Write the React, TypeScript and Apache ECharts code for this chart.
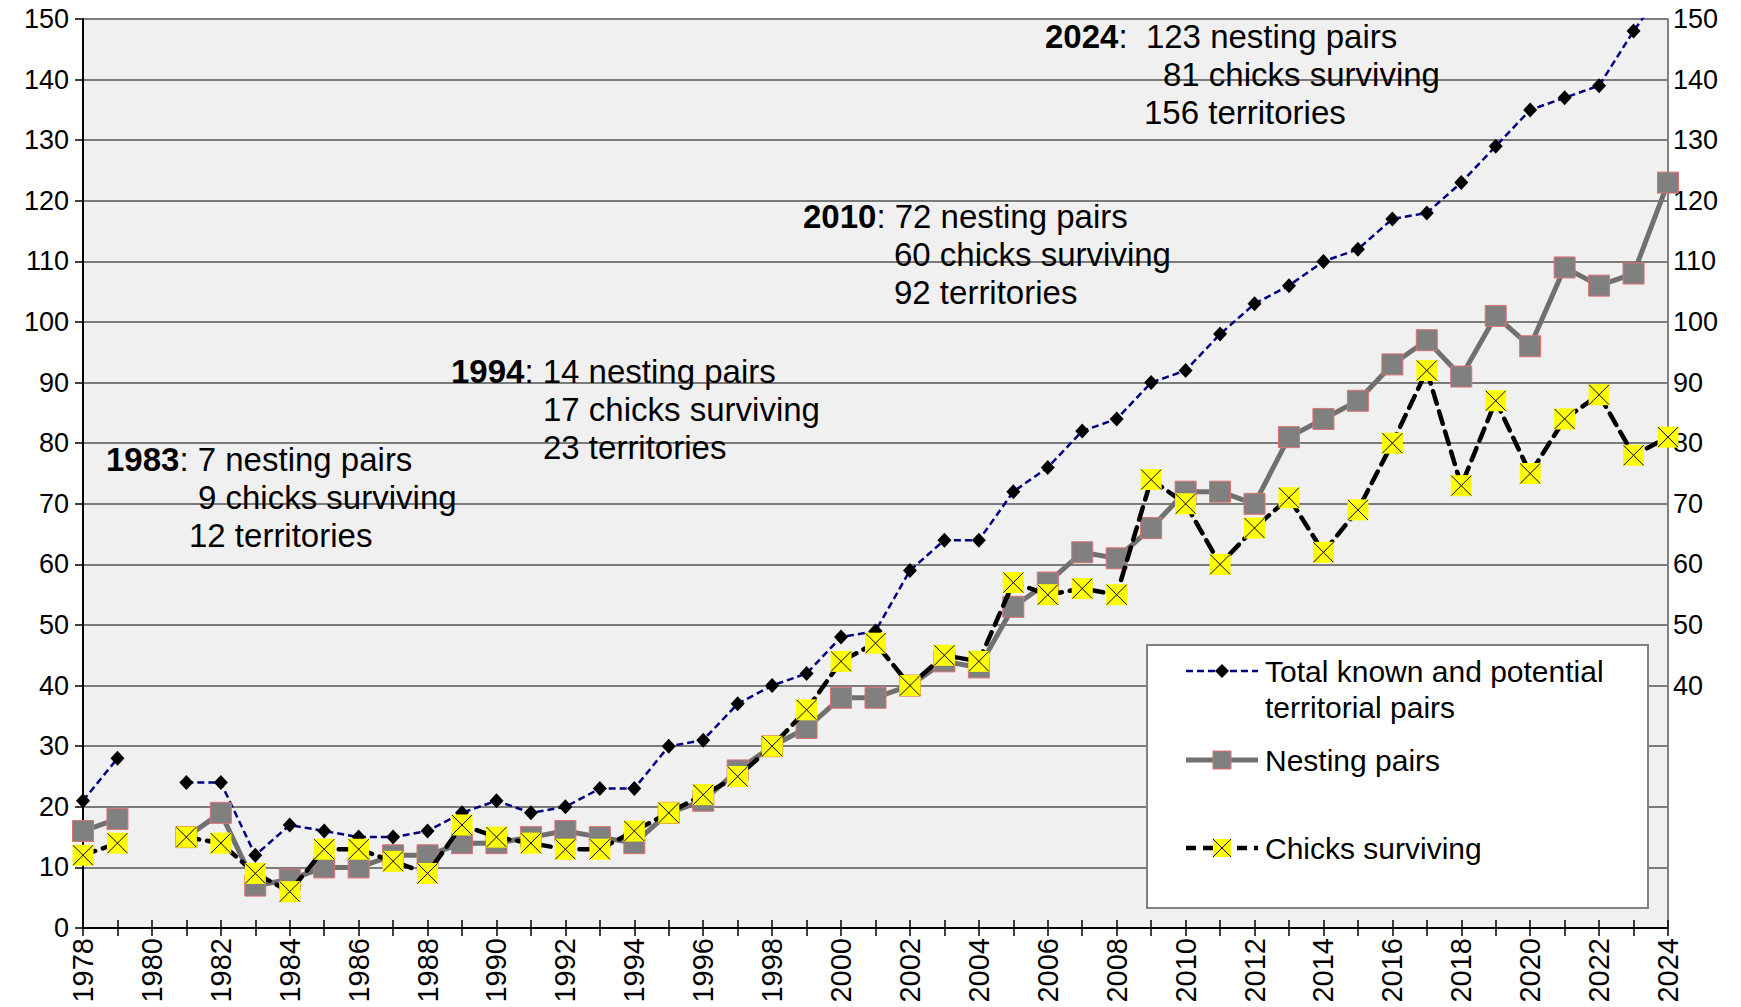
import React, { useEffect, useRef } from 'react';
import * as echarts from 'echarts';

const YEARS = [
  '1978', '1979', '1980', '1981', '1982', '1983', '1984', '1985', '1986', '1987',
  '1988', '1989', '1990', '1991', '1992', '1993', '1994', '1995', '1996', '1997',
  '1998', '1999', '2000', '2001', '2002', '2003', '2004', '2005', '2006', '2007',
  '2008', '2009', '2010', '2011', '2012', '2013', '2014', '2015', '2016', '2017',
  '2018', '2019', '2020', '2021', '2022', '2023', '2024',
];

const TOTAL_PAIRS = [
  21, 28, null, 24, 24, 12, 17, 16, 15, 15,
  16, 19, 21, 19, 20, 23, 23, 30, 31, 37,
  40, 42, 48, 49, 59, 64, 64, 72, 76, 82,
  84, 90, 92, 98, 103, 106, 110, 112, 117, 118,
  123, 129, 135, 137, 139, 148, 156,
];

const NESTING_PAIRS = [
  16, 18, null, 15, 19, 7, 8, 10, 10, 12,
  12, 14, 14, 15, 16, 15, 14, 19, 21, 26,
  30, 33, 38, 38, 40, 44, 43, 53, 57, 62,
  61, 66, 72, 72, 70, 81, 84, 87, 93, 97,
  91, 101, 96, 109, 106, 108, 123,
];

const CHICKS_SURVIVING = [
  12, 14, null, 15, 14, 9, 6, 13, 13, 11,
  9, 17, 15, 14, 13, 13, 16, 19, 22, 25,
  30, 36, 44, 47, 40, 45, 44, 57, 55, 56,
  55, 74, 70, 60, 66, 71, 62, 69, 80, 92,
  73, 87, 75, 84, 88, 78, 81,
];

const SERIES_NAMES = ['Total known and potential territorial pairs', 'Nesting pairs', 'Chicks surviving'];
const LEGEND_LINES = [['Total known and potential', 'territorial pairs'], ['Nesting pairs'], ['Chicks surviving']];

const ANNOTATIONS = [
  { year: '1983', sep: ': ', lines: ['7 nesting pairs', '9 chicks surviving', '12 territories'] },
  { year: '1994', sep: ': ', lines: ['14 nesting pairs', '17 chicks surviving', '23 territories'] },
  { year: '2010', sep: ': ', lines: ['72 nesting pairs', '60 chicks surviving', '92 territories'] },
  { year: '2024', sep: ':  ', lines: ['123 nesting pairs', '81 chicks surviving', '156 territories'] },
];

// layout of annotation lines (x of each line, y center of first line)
const ANNO_LAYOUT = [
  { xs: [106, 198, 189], y: 459 },
  { xs: [451, 543, 543], y: 371 },
  { xs: [803, 894, 894], y: 216 },
  { xs: [1045, 1163, 1144], y: 36 },
];

const FONT = '"Liberation Sans", Arial, Helvetica, sans-serif';

const toData = (arr: (number | null)[]) => arr.map((v) => (v === null ? '-' : v));

function buildGraphic() {
  const els: any[] = [];
  ANNOTATIONS.forEach((a, i) => {
    const lay = ANNO_LAYOUT[i];
    a.lines.forEach((line, j) => {
      const text = j === 0 ? `{b|${a.year}}${a.sep}${line}` : line;
      els.push({
        type: 'text',
        x: lay.xs[j],
        y: lay.y + j * 38,
        z: 100,
        style: {
          text,
          fontSize: 33,
          fontFamily: FONT,
          fill: '#000',
          verticalAlign: 'middle',
          rich: { b: { fontWeight: 'bold', fontSize: 33, fontFamily: FONT, fill: '#000' } },
        },
      });
    });
  });

  // legend box
  const lx1 = 1186, lx2 = 1258, cx = 1222, tx = 1265;
  const rows = [671, 760, 848];
  els.push({
    type: 'rect', z: 100,
    shape: { x: 1147, y: 645, width: 501, height: 263 },
    style: { fill: '#ffffff', stroke: '#808080', lineWidth: 2 },
  });
  // item 1
  els.push({ type: 'line', z: 101, shape: { x1: lx1, y1: rows[0], x2: lx2, y2: rows[0] }, style: { stroke: '#000080', lineWidth: 2.5, lineDash: [7, 4] } });
  els.push({ type: 'polygon', z: 102, shape: { points: [[cx, rows[0] - 7], [cx + 7, rows[0]], [cx, rows[0] + 7], [cx - 7, rows[0]]] }, style: { fill: '#000' } });
  // item 2
  els.push({ type: 'line', z: 101, shape: { x1: lx1, y1: rows[1], x2: lx2, y2: rows[1] }, style: { stroke: '#707070', lineWidth: 5 } });
  els.push({ type: 'rect', z: 102, shape: { x: cx - 9, y: rows[1] - 9, width: 18, height: 18 }, style: { fill: '#808080', stroke: '#e07070', lineWidth: 1 } });
  // item 3
  els.push({ type: 'line', z: 101, shape: { x1: lx1, y1: rows[2], x2: lx2, y2: rows[2] }, style: { stroke: '#000', lineWidth: 4.5, lineDash: [10, 7] } });
  els.push({ type: 'rect', z: 102, shape: { x: cx - 9, y: rows[2] - 9, width: 18, height: 18 }, style: { fill: '#ffff00' } });
  els.push({ type: 'line', z: 103, shape: { x1: cx - 9, y1: rows[2] - 9, x2: cx + 9, y2: rows[2] + 9 }, style: { stroke: '#000', lineWidth: 1 } });
  els.push({ type: 'line', z: 103, shape: { x1: cx + 9, y1: rows[2] - 9, x2: cx - 9, y2: rows[2] + 9 }, style: { stroke: '#000', lineWidth: 1 } });

  LEGEND_LINES.forEach((lines, i) => {
    lines.forEach((t, j) => {
      els.push({
        type: 'text', z: 103, x: tx, y: rows[i] + j * 36,
        style: { text: t, fontSize: 30, fontFamily: FONT, fill: '#000', verticalAlign: 'middle' },
      });
    });
  });
  return els;
}

export default function App() {
  const ref = useRef<HTMLDivElement>(null);
  useEffect(() => {
    if (!ref.current) return;
    const chart = echarts.init(ref.current, null, { renderer: 'svg' });
    const option: any = {
      animation: false,
      backgroundColor: '#ffffff',
      textStyle: { fontFamily: FONT },
      grid: { left: 83, right: 73, top: 19, bottom: 79, show: true, backgroundColor: '#f0f0f0', borderWidth: 0 },
      xAxis: [
        {
          type: 'category', data: YEARS, boundaryGap: false,
          axisLine: { show: true, lineStyle: { color: '#000', width: 2 } },
          axisTick: { show: true, interval: 0, length: 8, lineStyle: { color: '#000', width: 1.5 } },
          axisLabel: { interval: 1, rotate: 90, fontSize: 29, color: '#000', margin: 10, fontFamily: FONT },
          splitLine: { show: false },
        },
        {
          type: 'category', data: YEARS, boundaryGap: false, position: 'bottom',
          axisLine: { show: false },
          axisTick: { show: true, inside: true, interval: 0, length: 8, lineStyle: { color: '#000', width: 1.5 } },
          axisLabel: { show: false },
          splitLine: { show: false },
        },
      ],
      yAxis: [
        {
          type: 'value', min: 0, max: 150, interval: 10,
          axisLine: { show: true, lineStyle: { color: '#000', width: 2 } },
          axisTick: { show: true, length: 8, lineStyle: { color: '#000', width: 1.5 } },
          axisLabel: { fontSize: 27, color: '#000', margin: 14, fontFamily: FONT },
          splitLine: { show: true, lineStyle: { color: '#555555', width: 1.6 } },
        },
        {
          type: 'value', position: 'right', min: 0, max: 150, interval: 10,
          axisLine: { show: true, lineStyle: { color: '#808080', width: 2 } },
          axisTick: { show: false },
          axisLabel: {
            fontSize: 27, color: '#000', margin: 5, fontFamily: FONT,
            formatter: (v: number) => (v >= 40 ? String(v) : ''),
          },
          splitLine: { show: false },
        },
      ],
      series: [
        {
          name: SERIES_NAMES[0], type: 'line', data: toData(TOTAL_PAIRS),
          symbol: 'diamond', symbolSize: [14, 15], showAllSymbol: true,
          itemStyle: { color: '#000' },
          lineStyle: { color: '#000080', width: 2.5, type: [7, 4] },
          z: 2,
        },
        {
          name: SERIES_NAMES[1], type: 'line', data: toData(NESTING_PAIRS),
          symbol: 'rect', symbolSize: 21, showAllSymbol: true,
          itemStyle: { color: '#808080', borderColor: '#e07070', borderWidth: 1 },
          lineStyle: { color: '#707070', width: 5 },
          z: 3,
        },
        {
          name: SERIES_NAMES[2], type: 'line', data: toData(CHICKS_SURVIVING),
          symbol: 'rect', symbolSize: 21, showAllSymbol: true,
          itemStyle: { color: '#ffff00', borderWidth: 0 },
          lineStyle: { color: '#000', width: 4.5, type: [13, 8], cap: 'round' },
          z: 4,
        },
        {
          name: SERIES_NAMES[2], type: 'line', data: toData(CHICKS_SURVIVING),
          symbol: 'path://M0,0L10,10M10,0L0,10', symbolSize: 20, showAllSymbol: true,
          itemStyle: { color: 'transparent', borderColor: '#000', borderWidth: 1 },
          lineStyle: { width: 0, opacity: 0 },
          z: 5,
        },
      ],
      graphic: buildGraphic(),
    };
    chart.setOption(option);
    return () => chart.dispose();
  }, []);
  return (
    <div
      ref={ref}
      style={{ position: 'fixed', left: 0, top: 0, width: 1741, height: 1007, background: '#fff' }}
    />
  );
}
